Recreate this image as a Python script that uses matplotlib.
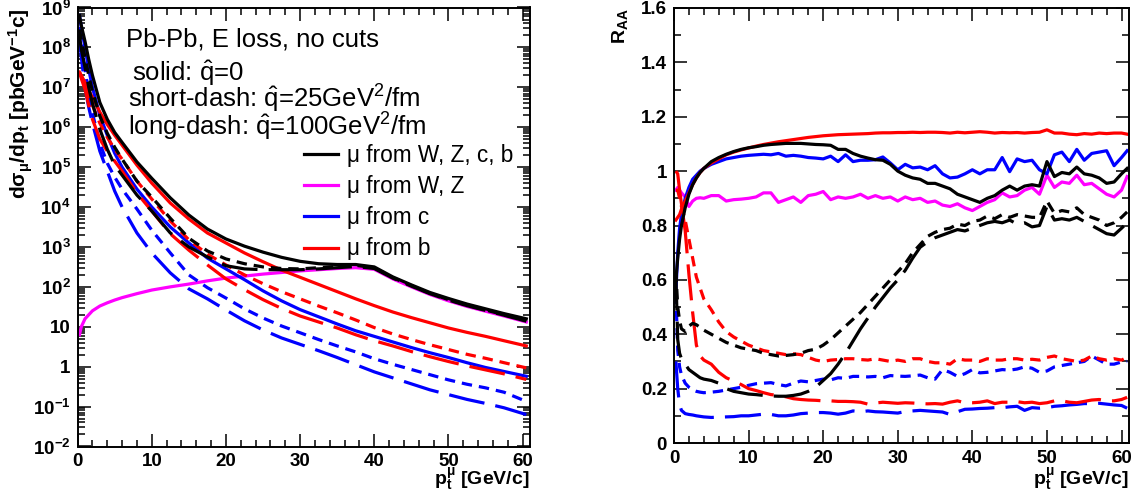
import numpy as np
import matplotlib
matplotlib.use("Agg")
import matplotlib.pyplot as plt
from matplotlib.ticker import LogLocator, MultipleLocator, NullFormatter, FuncFormatter
from matplotlib.lines import Line2D

plt.rcParams['font.family'] = ['Liberation Sans', 'DejaVu Sans']
plt.rcParams['font.weight'] = 'bold'
plt.rcParams['mathtext.fontset'] = 'custom'
plt.rcParams['mathtext.rm'] = 'Liberation Sans'
plt.rcParams['mathtext.it'] = 'Liberation Sans:italic'
plt.rcParams['mathtext.bf'] = 'Liberation Sans:bold'
plt.rcParams['mathtext.default'] = 'regular'
plt.rcParams['lines.scale_dashes'] = False

# ---- left panel: spectra (log10 of dsigma/dpt) ----
pt_spec = [0.25, 0.5, 1, 1.5, 2, 3, 4, 5, 6, 8, 10, 12.5, 15, 17.5, 20, 22.5, 25,
           27.5, 30, 32.5, 35, 37.5, 40, 42.5, 45, 47.5, 50, 52.5, 55, 57.5, 60.5]

all_q0 = [8.8, 8.55, 8.15, 7.7, 7.3, 6.62, 6.2, 5.87, 5.62, 5.13, 4.72, 4.23, 3.8, 3.45, 3.2, 3.02,
          2.87, 2.74, 2.64, 2.58, 2.56, 2.56, 2.5, 2.25, 2.05, 1.86, 1.71, 1.57, 1.45, 1.33, 1.2]
all_q25 = [8.45, 8.2, 7.75, 7.3, 6.9, 6.28, 5.85, 5.5, 5.2, 4.65, 4.25, 3.72, 3.22, 2.9, 2.7, 2.58,
           2.5, 2.46, 2.45, 2.48, 2.51, 2.54, 2.48, 2.23, 2.03, 1.84, 1.68, 1.54, 1.42, 1.3, 1.15]
all_q100 = [8.3, 7.95, 7.5, 7.0, 6.6, 5.95, 5.45, 5.05, 4.8, 4.3, 3.9, 3.35, 3.0, 2.75, 2.53, 2.45,
            2.43, 2.43, 2.43, 2.45, 2.48, 2.51, 2.46, 2.22, 2.02, 1.83, 1.67, 1.53, 1.41, 1.29, 1.14]
wz_q0 = [0.8, 1.0, 1.2, 1.3, 1.4, 1.52, 1.6, 1.67, 1.73, 1.83, 1.92, 2.0, 2.07, 2.15, 2.22, 2.27,
         2.32, 2.36, 2.4, 2.43, 2.46, 2.48, 2.44, 2.2, 2.0, 1.81, 1.65, 1.51, 1.39, 1.27, 1.12]
c_q0 = [8.8, 8.5, 8.0, 7.45, 7.0, 6.3, 5.8, 5.35, 5.0, 4.45, 4.0, 3.5, 3.1, 2.72, 2.45, 2.18,
        1.9, 1.65, 1.43, 1.25, 1.07, 0.9, 0.76, 0.62, 0.48, 0.35, 0.23, 0.1, -0.02, -0.12, -0.24]
c_q25 = [8.5, 8.1, 7.45, 6.85, 6.35, 5.6, 5.1, 4.75, 4.45, 3.95, 3.42, 2.85, 2.3, 1.98, 1.72, 1.45,
         1.22, 1.02, 0.85, 0.68, 0.52, 0.37, 0.2, 0.06, -0.07, -0.2, -0.33, -0.44, -0.53, -0.64, -0.87]
c_q100 = [8.3, 7.75, 7.0, 6.5, 6.1, 5.4, 4.9, 4.4, 4.0, 3.35, 2.85, 2.35, 1.95, 1.7, 1.42, 1.15,
          0.92, 0.72, 0.56, 0.4, 0.23, 0.05, -0.13, -0.28, -0.43, -0.58, -0.7, -0.82, -0.92, -1.03, -1.2]
b_q0 = [7.38, 7.3, 7.12, 6.92, 6.75, 6.38, 6.07, 5.8, 5.55, 5.05, 4.6, 4.1, 3.7, 3.35, 3.1, 2.85,
        2.63, 2.42, 2.24, 2.06, 1.88, 1.7, 1.53, 1.37, 1.23, 1.1, 0.97, 0.86, 0.76, 0.65, 0.52]
b_q25 = [7.38, 7.28, 7.05, 6.8, 6.55, 6.1, 5.75, 5.45, 5.2, 4.65, 4.2, 3.65, 3.18, 2.82, 2.55, 2.3,
         2.08, 1.88, 1.7, 1.52, 1.35, 1.17, 0.98, 0.82, 0.68, 0.55, 0.43, 0.31, 0.21, 0.1, -0.03]
b_q100 = [7.37, 7.22, 6.95, 6.55, 6.2, 5.7, 5.4, 5.15, 4.9, 4.35, 3.9, 3.33, 2.92, 2.55, 2.2, 1.93,
          1.68, 1.46, 1.27, 1.12, 0.97, 0.8, 0.65, 0.52, 0.38, 0.25, 0.13, 0.02, -0.08, -0.18, -0.32]

# ---- right panel: R_AA ----
pt_raa = [0.25, 0.5, 0.75, 1, 1.5, 2, 2.5, 3, 3.5, 4] + list(range(5, 61)) + [60.75]

raa_all_q0 = [0.6, 0.68, 0.75, 0.8, 0.865, 0.915, 0.95, 0.975, 0.995, 1.01,
              1.035, 1.05, 1.062, 1.072, 1.08, 1.086, 1.09, 1.095, 1.098, 1.1, 1.102, 1.102, 1.102, 1.1,
              1.098, 1.097, 1.095, 1.08, 1.08, 1.065, 1.055, 1.048, 1.042, 1.04, 1.025, 1.0, 0.985, 0.975,
              0.97, 0.955, 0.955, 0.945, 0.935, 0.915, 0.905, 0.895, 0.885, 0.9, 0.91, 0.93, 0.945, 0.93,
              0.945, 0.95, 0.945, 1.035, 0.98, 0.995, 0.99, 1.015, 0.99, 0.985, 0.975, 0.955, 0.96, 0.99, 1.01]
raa_all_q25 = [0.63, 0.5, 0.45, 0.42, 0.41, 0.43, 0.44, 0.435, 0.425, 0.415,
               0.4, 0.385, 0.37, 0.36, 0.35, 0.345, 0.34, 0.33, 0.325, 0.32, 0.322, 0.325, 0.33, 0.34,
               0.345, 0.36, 0.38, 0.405, 0.43, 0.455, 0.48, 0.51, 0.54, 0.57, 0.6, 0.63, 0.66, 0.7,
               0.73, 0.76, 0.775, 0.785, 0.79, 0.805, 0.8, 0.815, 0.82, 0.835, 0.825, 0.84, 0.83, 0.84,
               0.835, 0.83, 0.83, 0.89, 0.845, 0.855, 0.85, 0.865, 0.84, 0.83, 0.82, 0.8, 0.81, 0.83, 0.85]
raa_all_q100 = [0.62, 0.38, 0.33, 0.31, 0.29, 0.27, 0.26, 0.25, 0.24, 0.235,
                0.23, 0.22, 0.2, 0.19, 0.185, 0.18, 0.178, 0.175, 0.173, 0.172, 0.172, 0.175, 0.18, 0.19,
                0.205, 0.23, 0.255, 0.29, 0.33, 0.375, 0.42, 0.46, 0.5, 0.535, 0.57, 0.6, 0.635, 0.68,
                0.72, 0.74, 0.755, 0.765, 0.775, 0.785, 0.78, 0.79, 0.8, 0.81, 0.815, 0.81, 0.82, 0.805,
                0.81, 0.795, 0.8, 0.87, 0.82, 0.825, 0.82, 0.83, 0.815, 0.8, 0.785, 0.77, 0.765, 0.79, 0.81]
raa_wz = [0.93, 0.94, 0.93, 0.92, 0.905, 0.87, 0.89, 0.9, 0.902, 0.9,
          0.91, 0.91, 0.89, 0.895, 0.897, 0.9, 0.905, 0.92, 0.92, 0.885, 0.895, 0.905, 0.885, 0.91,
          0.915, 0.925, 0.895, 0.905, 0.9, 0.905, 0.915, 0.9, 0.91, 0.9, 0.905, 0.89, 0.905, 0.895,
          0.9, 0.885, 0.89, 0.875, 0.87, 0.88, 0.865, 0.855, 0.87, 0.885, 0.895, 0.92, 0.905, 0.91,
          0.93, 0.94, 0.915, 0.985, 0.94, 0.96, 0.955, 0.985, 0.95, 0.955, 0.935, 0.915, 0.905, 0.93, 0.98]
raa_c_q0 = [0.55, 0.7, 0.79, 0.84, 0.9, 0.94, 0.97, 0.985, 1.0, 1.01,
            1.025, 1.035, 1.045, 1.05, 1.055, 1.058, 1.06, 1.062, 1.06, 1.065, 1.055, 1.058, 1.055, 1.05,
            1.048, 1.045, 1.055, 1.035, 1.06, 1.035, 1.04, 1.04, 1.042, 1.052, 1.03, 1.005, 1.025, 1.012,
            1.015, 1.005, 1.02, 0.99, 0.975, 0.978, 0.99, 1.005, 0.99, 1.005, 1.005, 1.05, 0.998, 1.045,
            1.035, 1.04, 1.005, 0.99, 1.06, 1.07, 1.035, 1.08, 1.04, 1.065, 1.07, 1.075, 1.02, 1.05, 1.075]
raa_c_q25 = [0.55, 0.34, 0.28, 0.25, 0.22, 0.205, 0.195, 0.19, 0.187, 0.185,
             0.187, 0.19, 0.195, 0.2, 0.205, 0.212, 0.218, 0.22, 0.222, 0.215, 0.21, 0.22, 0.228, 0.225,
             0.23, 0.235, 0.232, 0.24, 0.238, 0.245, 0.245, 0.243, 0.245, 0.24, 0.248, 0.246, 0.245, 0.247,
             0.25, 0.24, 0.235, 0.27, 0.26, 0.245, 0.255, 0.27, 0.258, 0.26, 0.265, 0.27, 0.268, 0.272,
             0.28, 0.275, 0.26, 0.265, 0.28, 0.285, 0.29, 0.295, 0.3, 0.32, 0.305, 0.29, 0.29, 0.298, 0.3]
raa_c_q100 = [0.3, 0.2, 0.14, 0.12, 0.108, 0.105, 0.103, 0.1, 0.098, 0.096,
              0.094, 0.095, 0.096, 0.097, 0.1, 0.1, 0.103, 0.106, 0.105, 0.1, 0.1, 0.103, 0.108, 0.11,
              0.112, 0.112, 0.11, 0.106, 0.11, 0.118, 0.115, 0.118, 0.115, 0.114, 0.112, 0.11, 0.116, 0.118,
              0.12, 0.118, 0.116, 0.114, 0.105, 0.115, 0.124, 0.125, 0.127, 0.128, 0.13, 0.13, 0.133, 0.135,
              0.12, 0.13, 0.128, 0.13, 0.135, 0.137, 0.14, 0.142, 0.145, 0.145, 0.146, 0.143, 0.14, 0.138, 0.128]
raa_b_q0 = [0.82, 0.83, 0.84, 0.86, 0.89, 0.92, 0.95, 0.975, 0.995, 1.01,
            1.03, 1.045, 1.06, 1.07, 1.078, 1.085, 1.092, 1.098, 1.103, 1.108, 1.112, 1.116, 1.12, 1.124,
            1.127, 1.13, 1.132, 1.134, 1.135, 1.136, 1.137, 1.138, 1.14, 1.141, 1.141, 1.142, 1.142, 1.143,
            1.142, 1.143, 1.143, 1.142, 1.14, 1.143, 1.141, 1.143, 1.145, 1.143, 1.14, 1.142, 1.141, 1.142,
            1.14, 1.142, 1.143, 1.152, 1.14, 1.14, 1.136, 1.134, 1.138, 1.136, 1.14, 1.138, 1.14, 1.14, 1.136]
raa_b_q25 = [0.93, 0.93, 0.9, 0.87, 0.82, 0.75, 0.68, 0.61, 0.57, 0.53,
             0.49, 0.445, 0.41, 0.39, 0.375, 0.36, 0.35, 0.34, 0.335, 0.33, 0.325, 0.328, 0.325, 0.315,
             0.305, 0.3, 0.305, 0.307, 0.31, 0.31, 0.307, 0.305, 0.31, 0.305, 0.3, 0.305, 0.3, 0.31,
             0.31, 0.3, 0.295, 0.295, 0.29, 0.31, 0.305, 0.305, 0.3, 0.31, 0.305, 0.305, 0.31, 0.31,
             0.305, 0.308, 0.305, 0.315, 0.32, 0.31, 0.305, 0.3, 0.305, 0.32, 0.31, 0.305, 0.31, 0.305, 0.315]
raa_b_q100 = [1.0, 0.99, 0.93, 0.88, 0.78, 0.62, 0.48, 0.36, 0.32, 0.305,
              0.29, 0.26, 0.24, 0.228, 0.215, 0.2, 0.193, 0.185, 0.178, 0.175, 0.17, 0.163, 0.16, 0.158,
              0.157, 0.155, 0.155, 0.153, 0.153, 0.152, 0.15, 0.143, 0.147, 0.15, 0.148, 0.146, 0.148, 0.147,
              0.145, 0.144, 0.145, 0.143, 0.15, 0.155, 0.148, 0.148, 0.15, 0.155, 0.145, 0.15, 0.15, 0.152,
              0.148, 0.15, 0.145, 0.148, 0.155, 0.155, 0.15, 0.148, 0.153, 0.158, 0.16, 0.155, 0.155, 0.16, 0.168]

legend_labels = ['\u03bc from W, Z, c, b', '\u03bc from W, Z', '\u03bc from c', '\u03bc from b']

BLACK, MAG, BLUE, RED = '#000000', '#ff00ff', '#0000ff', '#ff0000'
SHORT = (0, (7.5, 5))
LONG = (0, (26, 8))
LW = 2.3

W, H = 1135, 496


def fx(x):
    return x / W


def fy(y):
    return 1 - y / H


fig = plt.figure(figsize=(W / 100, H / 100), dpi=100)
axL = fig.add_axes([fx(77.6), fy(446.5), (530 - 77.6) / W, (446.5 - 7.5) / H])
axR = fig.add_axes([fx(674), fy(443), (1129 - 674) / W, (443 - 8) / H])

# left: spectra
spectra = [
    (wz_q0, MAG, '-'),
    (c_q100, BLUE, LONG), (c_q25, BLUE, SHORT), (c_q0, BLUE, '-'),
    (b_q100, RED, LONG), (b_q25, RED, SHORT), (b_q0, RED, '-'),
    (all_q100, BLACK, LONG), (all_q25, BLACK, SHORT), (all_q0, BLACK, '-'),
]
for vals, col, ls in spectra:
    axL.plot(pt_spec, 10 ** np.array(vals), color=col, ls=ls, lw=LW, dash_capstyle='butt')

axL.set_yscale('log')
axL.set_xlim(0, 61)
axL.set_ylim(1e-2, 1e9)


def log_fmt(v, pos):
    e = int(round(np.log10(v)))
    if e == 0:
        return '1'
    if e == 1:
        return '10'
    return r'$10^{%d}$' % e


axL.yaxis.set_major_locator(LogLocator(base=10, numticks=20))
axL.yaxis.set_minor_locator(LogLocator(base=10, subs=np.arange(2, 10), numticks=20))
axL.yaxis.set_minor_formatter(NullFormatter())
axL.yaxis.set_major_formatter(FuncFormatter(log_fmt))

# right: R_AA
raa_curves = [
    (raa_wz, MAG, '-'),
    (raa_c_q100, BLUE, LONG), (raa_c_q25, BLUE, SHORT), (raa_c_q0, BLUE, '-'),
    (raa_b_q100, RED, LONG), (raa_b_q25, RED, SHORT), (raa_b_q0, RED, '-'),
    (raa_all_q100, BLACK, LONG), (raa_all_q25, BLACK, SHORT), (raa_all_q0, BLACK, '-'),
]
for vals, col, ls in raa_curves:
    axR.plot(pt_raa, vals, color=col, ls=ls, lw=LW, dash_capstyle='butt')

axR.set_xlim(0, 61)
axR.set_ylim(0, 1.6)
axR.yaxis.set_major_locator(MultipleLocator(0.2))
axR.yaxis.set_minor_locator(MultipleLocator(0.1))
axR.yaxis.set_major_formatter(FuncFormatter(lambda v, p: '0' if abs(v) < 1e-9 else ('%g' % round(v, 1))))

for ax in (axL, axR):
    ax.xaxis.set_major_locator(MultipleLocator(10))
    ax.xaxis.set_minor_locator(MultipleLocator(2))
    ax.tick_params(which='both', direction='in', top=True, right=True, width=1.1,
                   labelsize=13.5)
    ax.tick_params(which='major', length=9.4, pad=5)
    ax.tick_params(which='minor', length=5)
    for s in ax.spines.values():
        s.set_linewidth(1.4)

# axis titles
fig.text(fx(21), fy(8), 'd\u03c3$_{\u03bc}$/dp$_{t}$ [pbGeV$^{-1}$c]', rotation=90,
         ha='center', va='top', fontsize=15, weight='bold')
fig.text(fx(530), fy(479), 'p$_{t}^{\u03bc}$ [GeV/c]', ha='right', va='center',
         fontsize=14, weight='bold')
fig.text(fx(620), fy(8), 'R$_{AA}$', rotation=90, ha='center', va='top',
         fontsize=14, weight='bold')
fig.text(fx(1129), fy(479), 'p$_{t}^{\u03bc}$ [GeV/c]', ha='right', va='center',
         fontsize=14, weight='bold')

# annotations
TS = 18.5
fig.text(fx(126), fy(40), 'Pb-Pb, E loss, no cuts', fontsize=TS, weight='normal', va='center')
fig.text(fx(132), fy(73), r'solid: $\hat{q}$=0', fontsize=TS, weight='normal', va='center')
fig.text(fx(128), fy(99), r'short-dash: $\hat{q}$=25GeV$^{2}$/fm', fontsize=TS, weight='normal', va='center')
fig.text(fx(128), fy(127), r'long-dash: $\hat{q}$=100GeV$^{2}$/fm', fontsize=TS, weight='normal', va='center')

handles = [Line2D([], [], color=c, lw=LW) for c in (BLACK, MAG, BLUE, RED)]
axL.legend(handles, legend_labels, loc='upper left', bbox_to_anchor=(fx(304), fy(144)),
           bbox_transform=fig.transFigure, frameon=False,
           prop={'size': 16.3, 'weight': 'normal'}, handlelength=1.5, handletextpad=0.4,
           labelspacing=0.36, borderpad=0, borderaxespad=0)

fig.savefig('out.png', dpi=100)
